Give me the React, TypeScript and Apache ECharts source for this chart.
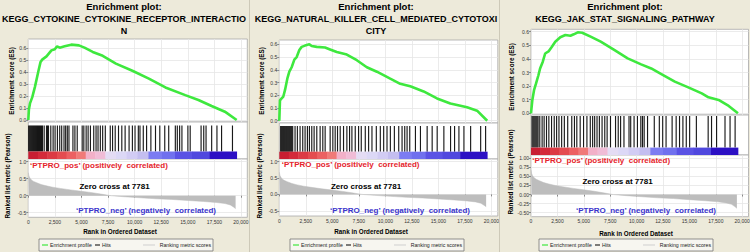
import React, { useEffect, useRef } from "react";
import * as echarts from "echarts";

// ---------------- data ----------------
const rankTicks = [0, 2500, 5000, 7500, 10000, 12500, 15000, 17500, 20000];
const esTicks = [0, 0.1, 0.2, 0.3, 0.4, 0.5, 0.6];
const metricTicksShort = [-0.5, 0, 0.5, 1.0];
const metricTicksLong = [-0.5, -0.25, 0, 0.25, 0.5, 0.75, 1.0];

const titleCytokine = ["Enrichment plot:", "KEGG_CYTOKINE_CYTOKINE_RECEPTOR_INTERACTIO", "N"];
const titleNK = ["Enrichment plot:", "KEGG_NATURAL_KILLER_CELL_MEDIATED_CYTOTOXI", "CITY"];
const titleJak = ["Enrichment plot:", "KEGG_JAK_STAT_SIGNALING_PATHWAY"];

const posLabel = "\u2018PTPRO_pos\u2019 (positively  correlated)";
const negLabel = "\u2018PTPRO_neg\u2019 (negatively  correlated)";
const zeroCrossLabel = "Zero cross at 7781";
const esAxisName = "Enrichment score (ES)";
const metricAxisName = "Ranked list metric (Pearson)";
const rankAxisName = "Rank in Ordered Dataset";
const legendNames = ["Enrichment profile", "Hits", "Ranking metric scores"];

const esCytokineRanks = [0, 60, 158, 375, 624, 932, 1153, 1308, 1712, 2177, 2488, 2705, 2955, 3420, 4041, 4757, 5284, 6060, 7000, 8240, 9790, 11340, 12898, 14762, 16002, 17242, 18490, 19600];
const esCytokineValues = [0, 0.09, 0.138, 0.19, 0.276, 0.4, 0.484, 0.503, 0.53, 0.58, 0.59, 0.614, 0.603, 0.614, 0.628, 0.622, 0.603, 0.567, 0.535, 0.47, 0.41, 0.345, 0.271, 0.207, 0.166, 0.116, 0.069, 0];

const esNKRanks = [0, 63, 220, 378, 535, 756, 945, 1165, 1418, 1638, 1890, 2110, 2425, 2835, 3055, 3528, 4315, 4788, 5418, 6363, 7308, 8253, 9198, 10458, 11403, 12348, 13608, 14868, 16128, 17703, 18648, 19600];
const esNKValues = [0, 0.16, 0.175, 0.19, 0.24, 0.33, 0.385, 0.42, 0.48, 0.5, 0.555, 0.58, 0.59, 0.6, 0.587, 0.58, 0.575, 0.56, 0.54, 0.52, 0.475, 0.42, 0.385, 0.33, 0.29, 0.27, 0.23, 0.175, 0.135, 0.105, 0.079, 0];

const esJakRanks = [0, 128, 287, 479, 702, 861, 1117, 1340, 1659, 1978, 2297, 2775, 3254, 3732, 4051, 4434, 4849, 5646, 6603, 7879, 9155, 10431, 11388, 12345, 13621, 14897, 16173, 16811, 17768, 18725, 19600];
const esJakValues = [0, 0.098, 0.17, 0.22, 0.28, 0.33, 0.38, 0.44, 0.455, 0.49, 0.527, 0.56, 0.576, 0.571, 0.581, 0.596, 0.593, 0.564, 0.527, 0.466, 0.404, 0.36, 0.33, 0.289, 0.233, 0.191, 0.147, 0.118, 0.098, 0.054, 0];

const hitsCytokine = [35, 128, 221, 314, 407, 500, 594, 687, 780, 873, 966, 1060, 1153, 1246, 1339, 1495, 1712, 1806, 1899, 2116, 2334, 2520, 2738, 2955, 3141, 3359, 3514, 3670, 3825, 4198, 4384, 4602, 5068, 5223, 5441, 5627, 5845, 6155, 6373, 6559, 6776, 6994, 7243, 7709, 7926, 8175, 8486, 8796, 9107, 9480, 9791, 10039, 10350, 10505, 10816, 11127, 11530, 11965, 12369, 12835, 13208, 13830, 14016, 14234, 14451, 15011, 15228, 16253, 16502, 16720, 17248, 17745, 18180, 19205];
const hitsNK = [128, 223, 318, 412, 507, 602, 696, 791, 886, 980, 1075, 1169, 1264, 1485, 1705, 1958, 2210, 2430, 2651, 2840, 3061, 3282, 3534, 3849, 4101, 4322, 4795, 5047, 5268, 5489, 5741, 6056, 6371, 6624, 6845, 7160, 7475, 7727, 8106, 8421, 8736, 9146, 9524, 9840, 10155, 10471, 10849, 11259, 11574, 11826, 12047, 12299, 12835, 13308, 13939, 14412, 14885, 15515, 16146, 16524, 16934, 17407, 18038, 18984, 19450];
const hitsJak = [96, 192, 287, 383, 479, 574, 670, 830, 1053, 1244, 1468, 1691, 1946, 2201, 2425, 2648, 2903, 3158, 3477, 3860, 4115, 4339, 4658, 4977, 5296, 5615, 5838, 6029, 6253, 6476, 6731, 6986, 7210, 7529, 8007, 8262, 8486, 8805, 9283, 9443, 9762, 10081, 10400, 10559, 10719, 11038, 11676, 12154, 12473, 12792, 13366, 13749, 14068, 14387, 14706, 15025, 15663, 16780, 17099, 17577, 18375, 18853, 19332];

const metricRanks = [0, 60, 150, 300, 500, 800, 1200, 1700, 2300, 3000, 4000, 5000, 6000, 7000, 7781, 9000, 10500, 12000, 13500, 15000, 16500, 17700, 18500, 19000, 19300, 19500];
const metricValues = [0.68, 0.58, 0.52, 0.46, 0.42, 0.38, 0.33, 0.29, 0.25, 0.215, 0.17, 0.13, 0.09, 0.04, 0, -0.03, -0.06, -0.09, -0.11, -0.14, -0.17, -0.2, -0.23, -0.27, -0.33, -0.38];

const colorBarEdges = [0, 900, 1800, 2700, 3600, 4500, 5400, 6300, 7250, 8250, 9250, 10250, 11300, 12500, 13800, 15400, 17050, 19600];
const colorBarColors = ["#c81e32", "#d42a3a", "#dc3a44", "#e44c50", "#ec6062", "#f07a78", "#f2b0c8", "#f0bcd6", "#e4dcf4", "#dcd8f6", "#d2ccf4", "#c4bef0", "#7c7cf2", "#7070ee", "#5a52e4", "#5048de", "#2c10c4"];

// ---------------- layout ----------------
const FONT = '"Liberation Sans", Arial, sans-serif';
const X_MAX = 20600;

const PANELS = [
  {
    titleX: 124, titleY: [6, 18.5, 30.5], left: 28.3, width: 219,
    esTop: 39, esBottom: 122, esMin: -0.017, esMax: 0.675,
    midBottom: 159, hitTop: 125.5, barH: 7.5, botBottom: 217.3, mMin: -0.635, mMax: 1.08,
    esNameX: 11.7, esNameY: 81, rankNameX: 7.3, rankNameY: 176,
    posX: 30, posY: 165.7, zeroX: 114.5, zeroY: 186.7, negX: 216, negY: 210,
    xNameX: 120, xNameY: 231.7, legendX: 39, legendY: 239,
  },
  {
    titleX: 376, titleY: [6, 18.5, 30.5], left: 279.3, width: 218.5,
    esTop: 40, esBottom: 123, esMin: -0.018, esMax: 0.634,
    midBottom: 159, hitTop: 126, barH: 7.3, botBottom: 216, mMin: -0.66, mMax: 1.08,
    esNameX: 261.7, esNameY: 81, rankNameX: 259.3, rankNameY: 176,
    posX: 281.7, posY: 164.3, zeroX: 366, zeroY: 186.7, negX: 470, negY: 210,
    xNameX: 371, xNameY: 231.7, legendX: 290, legendY: 239,
  },
  {
    titleX: 625, titleY: [6, 19], left: 531, width: 217.5,
    esTop: 29.3, esBottom: 115, esMin: -0.0125, esMax: 0.618,
    midBottom: 155, hitTop: 116, barH: 7.4, botBottom: 216.7, mMin: -0.61, mMax: 1.09,
    esNameX: 511.7, esNameY: 77, rankNameX: 510, rankNameY: 172,
    posX: 532.3, posY: 160.7, zeroX: 617.5, zeroY: 181.7, negX: 716, negY: 210,
    xNameX: 636, xNameY: 233, legendX: 539, legendY: 239,
  },
];

const PANEL_DATA = [
  { title: titleCytokine, esRanks: esCytokineRanks, esValues: esCytokineValues, hits: hitsCytokine, mTicks: metricTicksShort, dec: 1 },
  { title: titleNK, esRanks: esNKRanks, esValues: esNKValues, hits: hitsNK, mTicks: metricTicksShort, dec: 1 },
  { title: titleJak, esRanks: esJakRanks, esValues: esJakValues, hits: hitsJak, mTicks: metricTicksLong, dec: 2 },
];

function txt(x: number, y: number, text: string, size: number, opts: any = {}) {
  return {
    type: "text",
    x, y, z: 100,
    rotation: opts.rotation || 0,
    silent: true,
    style: {
      text,
      fontSize: size,
      fontWeight: opts.weight || "bold",
      fontFamily: FONT,
      fill: opts.color || "#000",
      align: opts.align || "center",
      verticalAlign: "middle",
    },
  };
}

function buildOption() {
  const grids: any[] = [];
  const xAxes: any[] = [];
  const yAxes: any[] = [];
  const series: any[] = [];
  const graphics: any[] = [];
  const splitStyle = { show: true, lineStyle: { color: "#e6e6e6", width: 0.8 } };
  const gridBase = { show: true, backgroundColor: "#ffffff", borderColor: "#a8a8a8", borderWidth: 0.8, outerBoundsMode: "none", containLabel: false };
  const labelBase = { fontSize: 5, color: "#333", fontFamily: FONT, margin: 2 };

  PANELS.forEach((L, p) => {
    const D = PANEL_DATA[p];
    const midH = L.midBottom - L.esBottom;
    const hb = L.barH / midH;
    const ht = (L.midBottom - L.hitTop) / midH;

    grids.push({ ...gridBase, left: L.left, top: L.esTop, width: L.width, height: L.esBottom - L.esTop });
    grids.push({ ...gridBase, left: L.left, top: L.esBottom, width: L.width, height: midH });
    grids.push({ ...gridBase, left: L.left, top: L.midBottom, width: L.width, height: L.botBottom - L.midBottom });

    xAxes.push({
      type: "value", gridIndex: 3 * p, min: 0, max: X_MAX,
      axisLine: { show: false }, axisTick: { show: false, customValues: rankTicks },
      axisLabel: { show: false, customValues: rankTicks }, splitLine: splitStyle,
    });
    xAxes.push({ type: "value", gridIndex: 3 * p + 1, min: 0, max: X_MAX, show: false });
    xAxes.push({
      type: "value", gridIndex: 3 * p + 2, min: 0, max: X_MAX,
      axisLine: { show: false },
      axisTick: { show: true, length: 2, customValues: rankTicks, lineStyle: { color: "#888" } },
      axisLabel: { ...labelBase, customValues: rankTicks, formatter: (v: number) => v.toLocaleString("en-US") },
      splitLine: splitStyle,
    });

    yAxes.push({
      type: "value", gridIndex: 3 * p, min: L.esMin, max: L.esMax,
      axisLine: { show: false },
      axisTick: { show: true, length: 2, customValues: esTicks, lineStyle: { color: "#888" } },
      axisLabel: { ...labelBase, customValues: esTicks, formatter: (v: number) => v.toFixed(1) },
      splitLine: splitStyle,
    });
    yAxes.push({ type: "value", gridIndex: 3 * p + 1, min: 0, max: 1, show: false });
    yAxes.push({
      type: "value", gridIndex: 3 * p + 2, min: L.mMin, max: L.mMax,
      axisLine: { show: false },
      axisTick: { show: true, length: 2, customValues: D.mTicks, lineStyle: { color: "#888" } },
      axisLabel: { ...labelBase, customValues: D.mTicks, formatter: (v: number) => v.toFixed(D.dec) },
      splitLine: splitStyle,
    });

    series.push({
      name: legendNames[2], type: "line", xAxisIndex: 3 * p + 2, yAxisIndex: 3 * p + 2,
      data: metricRanks.map((r, i) => [r, metricValues[i]]),
      symbol: "none", silent: true,
      lineStyle: { color: "#bdbdbd", width: 0.5 },
      areaStyle: { color: "#bdbdbd", opacity: 1 },
    });
    series.push({
      name: legendNames[0], type: "line", xAxisIndex: 3 * p, yAxisIndex: 3 * p,
      data: D.esRanks.map((r, i) => [r, D.esValues[i]]),
      symbol: "none", silent: true, clip: false,
      lineStyle: { color: "#3ee83e", width: 2.6 },
    });
    series.push({
      name: legendNames[1], type: "custom", xAxisIndex: 3 * p + 1, yAxisIndex: 3 * p + 1,
      data: D.hits.map((r) => [r]), encode: { x: 0 }, silent: true,
      renderItem: (_params: any, api: any) => {
        const x = api.coord([api.value(0), 0])[0];
        const yb = api.coord([0, hb])[1];
        const yt = api.coord([0, ht])[1];
        return { type: "line", shape: { x1: x, y1: yb, x2: x, y2: yt }, style: { stroke: "#000", lineWidth: 1.15, opacity: 0.9 } };
      },
    });
    series.push({
      name: "colorbar", type: "custom", xAxisIndex: 3 * p + 1, yAxisIndex: 3 * p + 1,
      data: colorBarColors.map((_c, i) => [colorBarEdges[i], colorBarEdges[i + 1], i]),
      encode: { x: [0, 1] }, silent: true,
      renderItem: (_params: any, api: any) => {
        const a = api.coord([api.value(0), 0]);
        const b = api.coord([api.value(1), hb]);
        return { type: "rect", shape: { x: a[0], y: b[1], width: b[0] - a[0] + 0.4, height: a[1] - b[1] }, style: { fill: colorBarColors[api.value(2)] } };
      },
    });

    // texts
    D.title.forEach((t, i) => graphics.push(txt(L.titleX, L.titleY[i], t, i === 0 ? 9.5 : 9)));
    graphics.push(txt(L.esNameX, L.esNameY, esAxisName, 6.3, { rotation: Math.PI / 2 }));
    graphics.push(txt(L.rankNameX, L.rankNameY, metricAxisName, 6.3, { rotation: Math.PI / 2 }));
    graphics.push(txt(L.xNameX, L.xNameY, rankAxisName, 6.3));
    graphics.push(txt(L.posX, L.posY, posLabel, 8, { align: "left", color: "#e5232b" }));
    graphics.push(txt(L.zeroX, L.zeroY, zeroCrossLabel, 8));
    graphics.push(txt(L.negX, L.negY, negLabel, 8, { align: "right", color: "#3a34cc" }));

    // legend
    const lx = L.legendX, ly = L.legendY, lm = ly + 6;
    graphics.push({ type: "rect", z: 99, silent: true, shape: { x: lx, y: ly, width: 174, height: 12 }, style: { fill: "#f7f6f0", stroke: "#777", lineWidth: 0.8 } });
    graphics.push({ type: "line", z: 100, silent: true, shape: { x1: lx + 3, y1: lm, x2: lx + 9, y2: lm }, style: { stroke: "#3ee83e", lineWidth: 1.2 } });
    graphics.push(txt(lx + 11, lm, legendNames[0], 5.2, { align: "left", weight: "normal", color: "#222" }));
    graphics.push({ type: "line", z: 100, silent: true, shape: { x1: lx + 56, y1: lm, x2: lx + 61, y2: lm }, style: { stroke: "#000", lineWidth: 1 } });
    graphics.push(txt(lx + 63, lm, legendNames[1], 5.2, { align: "left", weight: "normal", color: "#222" }));
    graphics.push({ type: "line", z: 100, silent: true, shape: { x1: lx + 104, y1: lm, x2: lx + 116, y2: lm }, style: { stroke: "#cfcfcf", lineWidth: 1 } });
    graphics.push(txt(lx + 172, lm, legendNames[2], 5.2, { align: "right", weight: "normal", color: "#222" }));
  });

  // panel separators
  [249.5, 499.5].forEach((x) =>
    graphics.push({ type: "line", z: 100, silent: true, shape: { x1: x, y1: 0, x2: x, y2: 252 }, style: { stroke: "#cdc9b8", lineWidth: 1 } })
  );

  return {
    animation: false,
    backgroundColor: "#edeada",
    grid: grids,
    xAxis: xAxes,
    yAxis: yAxes,
    series,
    graphic: graphics,
  };
}

export default function App() {
  const ref = useRef<HTMLDivElement>(null);
  useEffect(() => {
    if (!ref.current) return;
    const chart = echarts.init(ref.current, undefined, { renderer: "svg" });
    chart.setOption(buildOption() as any);
    return () => chart.dispose();
  }, []);
  return <div ref={ref} style={{ position: "fixed", left: 0, top: 0, width: 750, height: 252 }} />;
}
